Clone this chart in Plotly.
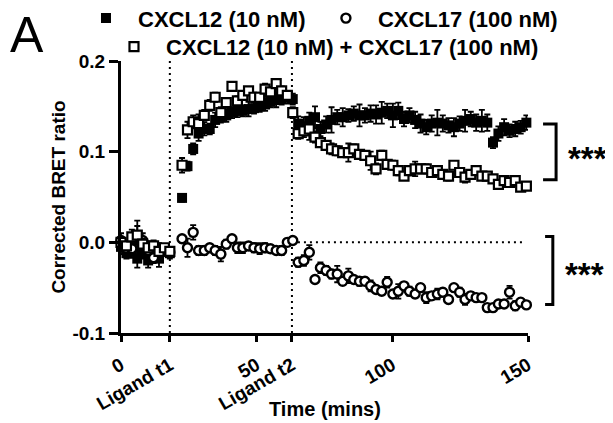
import plotly.graph_objects as go

# ---------------- data ----------------
t_pre = [0, 2, 4, 6, 8, 10, 12, 14, 16, 18]
t_mid = [22.5, 24.5, 26.6, 28.6, 30.7, 32.7, 34.7, 36.8, 38.8, 40.9, 42.9,
         44.9, 47.0, 49.0, 51.1, 53.1, 55.1, 57.2, 59.2, 61.3, 63.3]
t_post = [65.3, 67.4, 69.4, 71.5, 73.5, 75.6, 77.6, 79.7, 81.7, 83.8, 85.8,
          87.9, 89.9, 92.0, 94.0, 96.1, 98.1, 100.2, 102.2, 104.3, 106.3,
          108.4, 110.4, 112.5, 114.5, 116.6, 118.6, 120.7, 122.7, 124.8,
          126.8, 128.9, 130.9, 133.0, 135.0, 137.1, 139.1, 141.2, 143.2,
          145.3, 147.3, 149.4]
time = t_pre + t_mid + t_post

cxcl12 = ([-0.005, -0.012, -0.008, -0.018, -0.012, -0.020, -0.015, -0.018, -0.010, -0.012]
          + [0.049, 0.084, 0.103, 0.120, 0.125, 0.125, 0.135, 0.138, 0.140, 0.143, 0.145,
             0.145, 0.147, 0.148, 0.150, 0.152, 0.155, 0.157, 0.158, 0.160, 0.158]
          + [0.131, 0.128, 0.134, 0.138, 0.125, 0.130, 0.135, 0.138, 0.138, 0.140, 0.142,
             0.140, 0.140, 0.142, 0.141, 0.143, 0.145, 0.140, 0.145, 0.136, 0.140, 0.135,
             0.131, 0.127, 0.131, 0.132, 0.131, 0.129, 0.127, 0.131, 0.134, 0.136, 0.132,
             0.134, 0.132, 0.110, 0.120, 0.127, 0.123, 0.125, 0.127, 0.132])
cxcl12_err = ([0.008, 0.006, 0.007, 0.010, 0.006, 0.008, 0.006, 0.009, 0.005, 0.006]
              + [0.004, 0.005, 0.006, 0.008, 0.007, 0.006, 0.008, 0.006, 0.007, 0.006, 0.007,
                 0.006, 0.008, 0.006, 0.006, 0.007, 0.006, 0.008, 0.006, 0.007, 0.006]
              + [0.008, 0.010, 0.009, 0.012, 0.008, 0.009, 0.014, 0.008, 0.010, 0.007, 0.008,
                 0.012, 0.008, 0.009, 0.010, 0.012, 0.008, 0.013, 0.009, 0.008, 0.008, 0.009,
                 0.010, 0.008, 0.009, 0.014, 0.009, 0.008, 0.010, 0.008, 0.012, 0.008, 0.009,
                 0.012, 0.009, 0.006, 0.008, 0.009, 0.007, 0.008, 0.007, 0.008])

cxcl17 = ([0.002, -0.007, -0.007, 0.004, 0.002, -0.009, -0.017, -0.009, -0.009, -0.011]
          + [0.004, -0.006, 0.011, -0.009, -0.009, -0.006, -0.009, -0.013, -0.002, 0.004,
             -0.006, -0.006, -0.004, -0.006, -0.007, -0.006, -0.007, -0.009, -0.009, 0.000, 0.002]
          + [-0.022, -0.020, -0.011, -0.041, -0.028, -0.031, -0.035, -0.035, -0.043, -0.037,
             -0.041, -0.043, -0.043, -0.048, -0.052, -0.054, -0.044, -0.057, -0.054, -0.048,
             -0.054, -0.057, -0.050, -0.061, -0.059, -0.057, -0.055, -0.063, -0.050, -0.055,
             -0.063, -0.059, -0.061, -0.061, -0.072, -0.072, -0.068, -0.068, -0.055, -0.070,
             -0.066, -0.069])
cxcl17_err = ([0.008, 0.006, 0.010, 0.020, 0.008, 0.010, 0.006, 0.008, 0.005, 0.004]
              + [0.004, 0.010, 0.008, 0.005, 0.005, 0.004, 0.005, 0.008, 0.005, 0.004, 0.006,
                 0.006, 0.004, 0.005, 0.006, 0.005, 0.004, 0.004, 0.005, 0.004, 0.003]
              + [0.005, 0.006, 0.008, 0.004, 0.006, 0.005, 0.005, 0.009, 0.004, 0.008,
                 0.004, 0.005, 0.004, 0.006, 0.004, 0.004, 0.006, 0.004, 0.008, 0.004,
                 0.005, 0.004, 0.004, 0.006, 0.004, 0.006, 0.004, 0.004, 0.004, 0.005,
                 0.006, 0.004, 0.004, 0.003, 0.004, 0.004, 0.003, 0.004, 0.007, 0.005,
                 0.004, 0.003])

combo = ([0.000, -0.004, 0.006, 0.008, -0.002, -0.006, -0.004, -0.010, -0.006, -0.010]
         + [0.085, 0.124, 0.133, 0.131, 0.140, 0.151, 0.160, 0.143, 0.154, 0.172, 0.156,
            0.162, 0.167, 0.160, 0.160, 0.169, 0.166, 0.175, 0.167, 0.162, 0.143]
         + [0.120, 0.123, 0.125, 0.116, 0.110, 0.107, 0.103, 0.101, 0.099, 0.099, 0.103,
            0.097, 0.096, 0.090, 0.081, 0.096, 0.086, 0.085, 0.079, 0.073, 0.079, 0.081,
            0.081, 0.081, 0.077, 0.079, 0.075, 0.073, 0.085, 0.077, 0.072, 0.075, 0.079,
            0.073, 0.073, 0.070, 0.064, 0.068, 0.066, 0.068, 0.061, 0.062])
combo_err = ([0.006, 0.005, 0.008, 0.010, 0.006, 0.005, 0.006, 0.005, 0.004, 0.004]
             + [0.008, 0.009, 0.007, 0.010, 0.006, 0.006, 0.005, 0.006, 0.005, 0.005, 0.005,
                0.005, 0.004, 0.005, 0.004, 0.006, 0.005, 0.004, 0.005, 0.005, 0.006]
             + [0.006, 0.007, 0.012, 0.006, 0.005, 0.005, 0.006, 0.005, 0.004, 0.010, 0.005,
                0.004, 0.004, 0.010, 0.006, 0.005, 0.004, 0.005, 0.005, 0.004, 0.005, 0.008,
                0.004, 0.005, 0.004, 0.005, 0.004, 0.005, 0.004, 0.004, 0.006, 0.004, 0.005,
                0.004, 0.004, 0.004, 0.004, 0.005, 0.004, 0.004, 0.004, 0.003])

names = ["CXCL12 (10 nM)", "CXCL17 (100 nM)", "CXCL12 (10 nM) + CXCL17 (100 nM)"]
x_tickvals = [0, 18, 50, 63, 100, 150]
x_ticktext = ["0", "Ligand t1", "50", "Ligand t2", "100", "150"]
y_tickvals = [-0.1, 0.0, 0.1, 0.2]
y_ticktext = ["-0.1", "0.0", "0.1", "0.2"]
ligand_times = [18, 63]

FONT = "Liberation Sans, Arial, sans-serif"
err_style = dict(type="data", visible=True, color="black", thickness=1.8, width=3)

fig = go.Figure()
fig.add_trace(go.Scatter(
    x=time, y=cxcl12, mode="markers", name=names[0], legend="legend",
    error_y=dict(array=cxcl12_err, **err_style), cliponaxis=False,
    marker=dict(symbol="square", size=10, color="black", line=dict(width=0))))
fig.add_trace(go.Scatter(
    x=time, y=cxcl17, mode="markers", name=names[1], legend="legend3",
    error_y=dict(array=cxcl17_err, **err_style), cliponaxis=False,
    marker=dict(symbol="circle", size=9, color="white", line=dict(width=2.4, color="black"))))
fig.add_trace(go.Scatter(
    x=time, y=combo, mode="markers", name=names[2], legend="legend2",
    error_y=dict(array=combo_err, **err_style), cliponaxis=False,
    marker=dict(symbol="square", size=9, color="white", line=dict(width=2.2, color="black"))))

# dotted reference lines
for tl in ligand_times:
    fig.add_shape(type="line", xref="x", yref="paper", x0=tl, x1=tl, y0=0, y1=1,
                  line=dict(color="black", width=2, dash="2px,4px"), layer="below")
fig.add_shape(type="line", xref="x", yref="y", x0=ligand_times[1], x1=148, y0=0, y1=0,
              line=dict(color="black", width=2, dash="2px,4px"), layer="below")

# significance brackets
fig.add_shape(type="path", xref="paper", yref="y",
              path="M1.037,0.1306 H1.069 V0.069 H1.037",
              line=dict(color="black", width=3))
fig.add_shape(type="path", xref="paper", yref="y",
              path="M1.042,0.0063 H1.061 V-0.0685 H1.042",
              line=dict(color="black", width=3))

fig.add_annotation(text="***", xref="paper", yref="y", x=1.147, y=0.093, showarrow=False,
                   xanchor="center", yanchor="middle",
                   font=dict(family=FONT, size=33, color="black", weight="bold"))
fig.add_annotation(text="***", xref="paper", yref="y", x=1.140, y=-0.0357, showarrow=False,
                   xanchor="center", yanchor="middle",
                   font=dict(family=FONT, size=33, color="black", weight="bold"))
fig.add_annotation(text="A", xref="paper", yref="paper", x=-0.231, y=1.097, showarrow=False,
                   xanchor="center", yanchor="middle",
                   font=dict(family=FONT, size=50, color="black"))
fig.add_annotation(text="Time (mins)", xref="paper", yref="paper", x=0.501, y=-0.279,
                   showarrow=False, xanchor="center", yanchor="middle",
                   font=dict(family=FONT, size=20, color="black", weight="bold"))

tickfont = dict(family=FONT, size=19, color="black", weight="bold")
legfont = dict(family=FONT, size=22, color="black", weight="bold")
# the page body adds an 8px offset, so the figure is laid out 8px up/left
fig.update_layout(
    width=613, height=423,
    margin=dict(l=113, r=93, t=53, b=98, autoexpand=False),
    paper_bgcolor="white", plot_bgcolor="white",
    font=dict(family=FONT, color="black"),
    showlegend=True,
    xaxis=dict(range=[0, 150], tickvals=x_tickvals, ticktext=x_ticktext, tickangle=-30,
               ticks="outside", ticklen=6, tickwidth=2.5, tickcolor="black",
               showline=True, linewidth=3, linecolor="black", showgrid=False, zeroline=False,
               tickfont=tickfont, automargin=False, ticklabelstandoff=5),
    yaxis=dict(range=[-0.1, 0.2], tickvals=y_tickvals, ticktext=y_ticktext,
               ticks="outside", ticklen=9, tickwidth=2.5, tickcolor="black",
               showline=True, linewidth=3, linecolor="black", showgrid=False, zeroline=False,
               tickfont=tickfont, automargin=False,
               title=dict(text="Corrected BRET ratio", standoff=2,
                          font=dict(family=FONT, size=19, color="black", weight="bold"))),
    legend=dict(orientation="h", x=-0.1155, xanchor="left", y=1.157, yanchor="middle",
                itemwidth=54, bgcolor="rgba(0,0,0,0)", font=legfont),
    legend3=dict(orientation="h", x=0.474, xanchor="left", y=1.157, yanchor="middle",
                 itemwidth=54, bgcolor="rgba(0,0,0,0)", font=legfont),
    legend2=dict(orientation="h", x=-0.0467, xanchor="left", y=1.052, yanchor="middle",
                 itemwidth=54, bgcolor="rgba(0,0,0,0)", font=legfont),
)

fig.write_html("out.html")
